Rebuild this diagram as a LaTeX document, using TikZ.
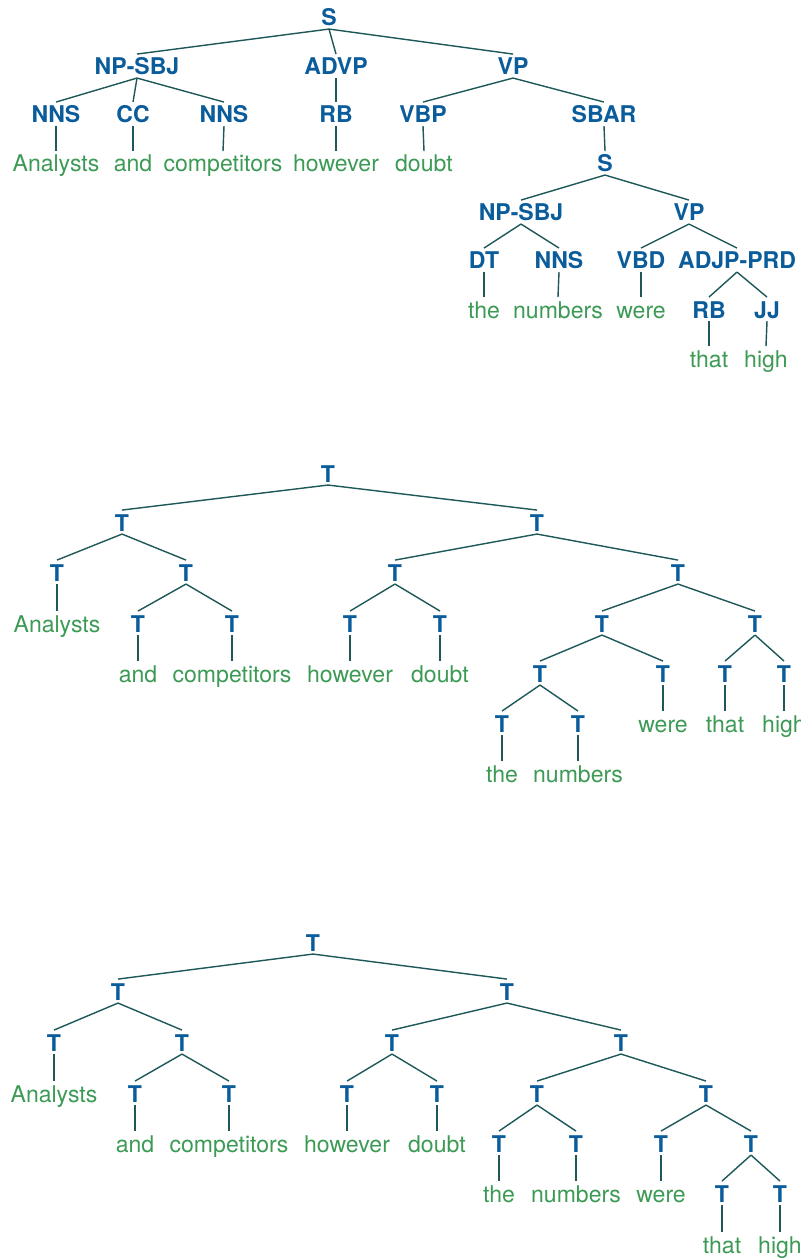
\documentclass[tikz,border=0pt]{standalone}
\usepackage{fontspec}
\setmainfont{TeX Gyre Heros}
\definecolor{labc}{HTML}{0A5C9A}
\definecolor{wrdc}{HTML}{3C9A55}
\definecolor{edgec}{HTML}{1E5858}
\begin{document}
\begin{tikzpicture}[x=0.4252pt,y=-0.4252pt,
  every node/.style={inner sep=0pt, outer sep=0pt, anchor=base,
    text height=8.9pt, text depth=1.3pt,
    font=\fontsize{9.8pt}{11pt}\selectfont},
  lab/.style={text=labc, font=\fontsize{9.8pt}{11pt}\selectfont\bfseries},
  wrd/.style={text=wrdc},
  br/.style={draw=edgec, line width=0.6pt}]
\useasboundingbox (0,0) rectangle (800,1260);

% ---------------- Tree 1 ----------------
\node[lab] (aS) at (329,26) {S};
\node[lab] (aNP) at (137,75) {NP-SBJ};
\node[lab] (aADVP) at (336,75) {ADVP};
\node[lab] (aVP) at (513,75) {VP};
\node[lab] (aNNS) at (56,123) {NNS};
\node[lab] (aCC) at (133,123) {CC};
\node[lab] (aNNSb) at (224,123) {NNS};
\node[lab] (aRB) at (336,123) {RB};
\node[lab] (aVBP) at (423,123) {VBP};
\node[lab] (aSBAR) at (604,123) {SBAR};
\node[wrd] (aw1) at (56,172) {Analysts};
\node[wrd] (aw2) at (133,172) {and};
\node[wrd] (aw3) at (223,172) {competitors};
\node[wrd] (aw4) at (336,172) {however};
\node[wrd] (aw5) at (424,172) {doubt};
\node[lab] (aSb) at (605,172) {S};
\node[lab] (aNPb) at (521,221) {NP-SBJ};
\node[lab] (aVPb) at (689,221) {VP};
\node[lab] (aDT) at (484,269) {DT};
\node[lab] (aNNSc) at (559,269) {NNS};
\node[lab] (aVBD) at (641,269) {VBD};
\node[lab] (aADJP) at (737,269) {ADJP-PRD};
\node[wrd] (aw6) at (484,318) {the};
\node[wrd] (aw7) at (558,318) {numbers};
\node[wrd] (aw8) at (641,318) {were};
\node[lab] (aRBb) at (709,318) {RB};
\node[lab] (aJJ) at (767,318) {JJ};
\node[wrd] (aw9) at (709,367) {that};
\node[wrd] (aw10) at (766,367) {high};

\foreach \p/\c in {aS/aNP, aS/aADVP, aS/aVP, aNP/aNNS, aNP/aCC, aNP/aNNSb,
  aADVP/aRB, aVP/aVBP, aVP/aSBAR, aNNS/aw1, aCC/aw2, aNNSb/aw3, aRB/aw4,
  aVBP/aw5, aSBAR/aSb, aSb/aNPb, aSb/aVPb, aNPb/aDT, aNPb/aNNSc, aVPb/aVBD,
  aVPb/aADJP, aDT/aw6, aNNSc/aw7, aVBD/aw8, aADJP/aRBb, aADJP/aJJ,
  aRBb/aw9, aJJ/aw10}
  \draw[br] (\p.south) -- (\c.north);

% ---------------- Tree 2 ----------------
\node[lab] (bR) at (328,482) {T};
\node[lab] (bA) at (122,531) {T};
\node[lab] (bB) at (537,531) {T};
\node[lab] (bA1) at (57,581) {T};
\node[lab] (bA2) at (186,581) {T};
\node[lab] (bB1) at (395,581) {T};
\node[lab] (bB2) at (678,581) {T};
\node[wrd] (bw1) at (57,632) {Analysts};
\node[lab] (bA21) at (138,632) {T};
\node[lab] (bA22) at (232,632) {T};
\node[lab] (bB11) at (350,632) {T};
\node[lab] (bB12) at (440,632) {T};
\node[lab] (bB21) at (602,632) {T};
\node[lab] (bB22) at (755,632) {T};
\node[wrd] (bw2) at (138,682) {and};
\node[wrd] (bw3) at (232,682) {competitors};
\node[wrd] (bw4) at (350,682) {however};
\node[wrd] (bw5) at (440,682) {doubt};
\node[lab] (bB211) at (540,682) {T};
\node[lab] (bB212) at (663,682) {T};
\node[lab] (bB221) at (725,682) {T};
\node[lab] (bB222) at (784,682) {T};
\node[lab] (bB2111) at (502,732) {T};
\node[lab] (bB2112) at (578,732) {T};
\node[wrd] (bw8) at (663,732) {were};
\node[wrd] (bw9) at (725,732) {that};
\node[wrd] (bw10) at (784,732) {high};
\node[wrd] (bw6) at (502,782) {the};
\node[wrd] (bw7) at (578,782) {numbers};

\foreach \p/\c in {bR/bA, bR/bB, bA/bA1, bA/bA2, bA1/bw1, bA2/bA21, bA2/bA22,
  bA21/bw2, bA22/bw3, bB/bB1, bB/bB2, bB1/bB11, bB1/bB12, bB11/bw4, bB12/bw5,
  bB2/bB21, bB2/bB22, bB21/bB211, bB21/bB212, bB211/bB2111, bB211/bB2112,
  bB2111/bw6, bB2112/bw7, bB212/bw8, bB22/bB221, bB22/bB222, bB221/bw9,
  bB222/bw10}
  \draw[br] (\p.south) -- (\c.north);

% ---------------- Tree 3 ----------------
\node[lab] (cR) at (313,951) {T};
\node[lab] (cA) at (118,1000) {T};
\node[lab] (cB) at (507,1000) {T};
\node[lab] (cA1) at (54,1051) {T};
\node[lab] (cA2) at (182,1051) {T};
\node[lab] (cB1) at (392,1051) {T};
\node[lab] (cB2) at (621,1051) {T};
\node[wrd] (cw1) at (54,1102) {Analysts};
\node[lab] (cA21) at (135,1102) {T};
\node[lab] (cA22) at (229,1102) {T};
\node[lab] (cB11) at (347,1102) {T};
\node[lab] (cB12) at (437,1102) {T};
\node[lab] (cB21) at (537,1102) {T};
\node[lab] (cB22) at (706,1102) {T};
\node[wrd] (cw2) at (135,1152) {and};
\node[wrd] (cw3) at (229,1152) {competitors};
\node[wrd] (cw4) at (347,1152) {however};
\node[wrd] (cw5) at (437,1152) {doubt};
\node[lab] (cB211) at (499,1152) {T};
\node[lab] (cB212) at (576,1152) {T};
\node[lab] (cB221) at (661,1152) {T};
\node[lab] (cB222) at (751,1152) {T};
\node[wrd] (cw6) at (499,1202) {the};
\node[wrd] (cw7) at (576,1202) {numbers};
\node[wrd] (cw8) at (661,1202) {were};
\node[lab] (cB2221) at (722,1202) {T};
\node[lab] (cB2222) at (780,1202) {T};
\node[wrd] (cw9) at (722,1253) {that};
\node[wrd] (cw10) at (780,1253) {high};

\foreach \p/\c in {cR/cA, cR/cB, cA/cA1, cA/cA2, cA1/cw1, cA2/cA21, cA2/cA22,
  cA21/cw2, cA22/cw3, cB/cB1, cB/cB2, cB1/cB11, cB1/cB12, cB11/cw4, cB12/cw5,
  cB2/cB21, cB2/cB22, cB21/cB211, cB21/cB212, cB211/cw6, cB212/cw7,
  cB22/cB221, cB22/cB222, cB221/cw8, cB222/cB2221, cB222/cB2222,
  cB2221/cw9, cB2222/cw10}
  \draw[br] (\p.south) -- (\c.north);
\end{tikzpicture}
\end{document}
